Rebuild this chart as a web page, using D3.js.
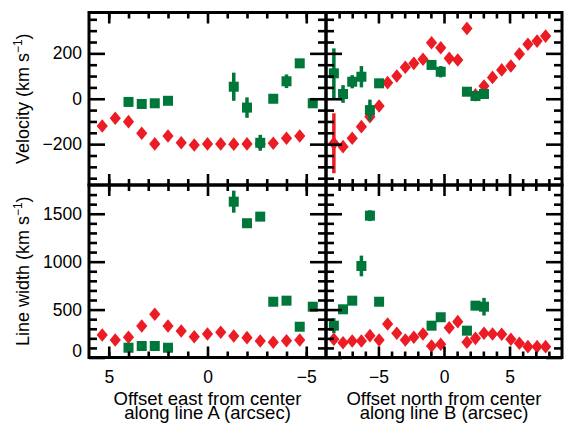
<!DOCTYPE html>
<html><head><meta charset="utf-8">
<script src="https://cdn.jsdelivr.net/npm/d3@7"></script>
<style>
html,body{margin:0;padding:0;background:#fff;}
text{font-family:"Liberation Sans",Arial,Helvetica,sans-serif;fill:#000;}
</style></head>
<body><svg id="c" width="564" height="424"></svg>
<script>
// ---------- data ----------
const eastOffsets = [5.33,4.67,4,3.33,2.67,2,1.33,0.67,0,-0.67,-1.33,-2,-2.67,-3.33,-4,-4.67];
const velA_red    = [-120,-86,-101,-152,-199,-164,-194,-204,-199,-199,-200,-199,-199,-196,-174,-164];
const widthA_red  = [235,183,211,329,451,329,277,217,245,263,224,207,172,159,175,183];

const eastOffsetsG   = [4,3.33,2.67,2,-1.33,-2,-2.67,-3.33,-4,-4.67,-5.33];
const velA_green     = [-14,-23,-20,-9,53,-39,-194,0,77,156,-20];
const velA_greenErr  = [8,8,8,8,62,45,35,8,30,8,8];
const widthA_green   = [102,120,120,102,1626,1401,1470,582,593,321,530];
const widthA_greenErr= [10,10,10,10,115,25,20,10,10,10,10];

const northOffsets = [-8.4,-7.7,-7.0,-6.3,-5.65,-4.95,-4.3,-3.6,-2.95,-2.3,-1.6,-0.95,-0.25,0.4,1.05,1.75,2.4,3.05,3.7,4.4,5.1,5.75,6.4,7.1,7.75];
const velB_red     = [-196,-211,-174,-123,-79,-32,71,100,139,156,174,247,225,178,171,310,17,56,94,127,144,197,240,254,276];
const velB_redErr  = [132,10,10,10,10,10,10,10,10,10,10,10,10,10,10,10,10,10,10,10,10,10,10,10,10];
const widthB_red   = [190,154,172,172,228,183,350,253,183,211,245,120,138,311,374,159,200,253,245,242,190,148,113,113,113];

const northOffsetsG   = [-8.4,-7.7,-7.0,-6.3,-5.65,-4.95,-0.95,-0.25,1.75,2.4,3.05];
const velB_green      = [112,21,75,97,-50,68,149,119,31,12,21];
const velB_greenErr   = [110,39,29,47,46,10,10,25,10,10,10];
const widthB_green    = [332,503,593,955,1480,582,332,420,280,541,530];
const widthB_greenErr = [78,20,10,108,57,10,10,10,10,10,92];

const xMajorA = [5,0,-5], xMinorA = [5,4,3,2,1,-1,-2,-3,-4,-5];
const xMajorB = [-5,0,5], xMinorB = [-8,-7,-6,-4,-3,-2,-1,1,2,3,4,6,7,8];
const vMajor = [-200,0,200], vMinor = [-350,-300,-250,-150,-100,-50,50,100,150,250,300,350];
const wMajor = [0,500,1000,1500], wMinor = [100,200,300,400,600,700,800,900,1100,1200,1300,1400,1600,1700];

// ---------- layout ----------
const RED = "#ec1c24", GREEN = "#00773a";
const svg = d3.select("#c");
const X0 = 89, XM = 326, X1 = 562, Y0 = 12.5, YM = 185, Y1 = 357.5;
const xA = d3.scaleLinear().domain([6,-6]).range([X0,XM]);
const xB = d3.scaleLinear().domain([-9,9]).range([XM,X1]);
const yV = d3.scaleLinear().domain([-380,380]).range([YM,Y0]);
const yW = d3.scaleLinear().domain([0,1800]).range([Y1,YM]);
const fmt = d => d3.format("d")(d).replace("-", "\u2212");

const diamond = (cx,cy) => `M${cx},${cy-6.8}L${cx+5.6},${cy}L${cx},${cy+6.8}L${cx-5.6},${cy}Z`;

function drawSeries(g, x, y, xs, ys, errs, color, shape){
  const dd = xs.map((v,i)=>({x:v,y:ys[i],e:errs?errs[i]:0}));
  g.selectAll(null).data(dd.filter(d=>d.e>0)).join("line")
    .attr("x1",d=>x(d.x)).attr("x2",d=>x(d.x))
    .attr("y1",d=>y(d.y-d.e)).attr("y2",d=>y(d.y+d.e))
    .attr("stroke",color).attr("stroke-width",3.5);
  if(shape==="diamond"){
    g.selectAll(null).data(dd).join("path")
      .attr("d",d=>diamond(x(d.x),y(d.y))).attr("fill",color);
  } else {
    g.selectAll(null).data(dd).join("rect")
      .attr("x",d=>x(d.x)-5).attr("y",d=>y(d.y)-5)
      .attr("width",10).attr("height",10).attr("fill",color);
  }
}

function drawAxes(x, y, xMaj, xMin, yMaj, yMin, xLabels, yLabels){
  const g = svg.append("g");
  const [xl,xr] = x.range(); const [yb,yt] = y.range();
  const style = s => { s.select(".domain").remove(); s.selectAll("line").attr("stroke","#000").attr("stroke-width",2.6); s.selectAll("text").attr("font-size",17.5); };
  g.append("g").attr("transform",`translate(0,${yb})`).call(d3.axisBottom(x).tickValues(xMaj).tickSize(-11).tickPadding(13.5).tickFormat(xLabels?fmt:()=>"")).call(style);
  g.append("g").attr("transform",`translate(0,${yb})`).call(d3.axisBottom(x).tickValues(xMin).tickSize(-6).tickFormat(()=>"")).call(style);
  g.append("g").attr("transform",`translate(0,${yt})`).call(d3.axisTop(x).tickValues(xMaj).tickSize(-11).tickFormat(()=>"")).call(style);
  g.append("g").attr("transform",`translate(0,${yt})`).call(d3.axisTop(x).tickValues(xMin).tickSize(-6).tickFormat(()=>"")).call(style);
  const la = g.append("g").attr("transform",`translate(${xl},0)`).call(d3.axisLeft(y).tickValues(yMaj).tickSize(-16).tickPadding(7).tickFormat(yLabels?fmt:()=>"")).call(style);
  la.selectAll("text").attr("dy", d => Math.abs(y(d)-yb)<1 ? "-0.05em" : "0.32em");
  g.append("g").attr("transform",`translate(${xl},0)`).call(d3.axisLeft(y).tickValues(yMin).tickSize(-8).tickFormat(()=>"")).call(style);
  g.append("g").attr("transform",`translate(${xr},0)`).call(d3.axisRight(y).tickValues(yMaj).tickSize(-16).tickFormat(()=>"")).call(style);
  g.append("g").attr("transform",`translate(${xr},0)`).call(d3.axisRight(y).tickValues(yMin).tickSize(-8).tickFormat(()=>"")).call(style);
  g.append("rect").attr("x",xl).attr("y",yt).attr("width",xr-xl).attr("height",yb-yt)
    .attr("fill","none").attr("stroke","#000").attr("stroke-width",3);
}

const data = svg.append("g");
drawSeries(data, xA, yV, eastOffsets, velA_red, null, RED, "diamond");
drawSeries(data, xA, yV, eastOffsetsG, velA_green, velA_greenErr, GREEN, "square");
drawSeries(data, xB, yV, northOffsets, velB_red, velB_redErr, RED, "diamond");
drawSeries(data, xB, yV, northOffsetsG, velB_green, velB_greenErr, GREEN, "square");
drawSeries(data, xA, yW, eastOffsets, widthA_red, null, RED, "diamond");
drawSeries(data, xA, yW, eastOffsetsG, widthA_green, widthA_greenErr, GREEN, "square");
drawSeries(data, xB, yW, northOffsets, widthB_red, null, RED, "diamond");
drawSeries(data, xB, yW, northOffsetsG, widthB_green, widthB_greenErr, GREEN, "square");

drawAxes(xA, yV, xMajorA, xMinorA, vMajor, vMinor, false, true);
drawAxes(xB, yV, xMajorB, xMinorB, vMajor, vMinor, false, false);
drawAxes(xA, yW, xMajorA, xMinorA, wMajor, wMinor, true, true);
drawAxes(xB, yW, xMajorB, xMinorB, wMajor, wMinor, true, false);

function yTitle(label, cy){
  const t = svg.append("text").attr("transform",`translate(29,${cy}) rotate(-90)`)
    .attr("text-anchor","middle").attr("font-size",18);
  t.append("tspan").text(label + " (km s");
  t.append("tspan").attr("font-size",12).attr("dy",-7).text("\u22121");
  t.append("tspan").attr("dy",7).text(")");
}
yTitle("Velocity", (Y0+YM)/2);
yTitle("Line width", (YM+Y1)/2);

function xTitle(lines, cx){
  const t = svg.append("text").attr("text-anchor","middle").attr("font-size",18.5);
  lines.forEach((l,i)=>t.append("tspan").attr("x",cx).attr("y",404.5+i*14.5).text(l));
}
xTitle(["Offset east from center","along line A (arcsec)"], xA(0));
xTitle(["Offset north from center","along line B (arcsec)"], xB(0));
</script></body></html>
